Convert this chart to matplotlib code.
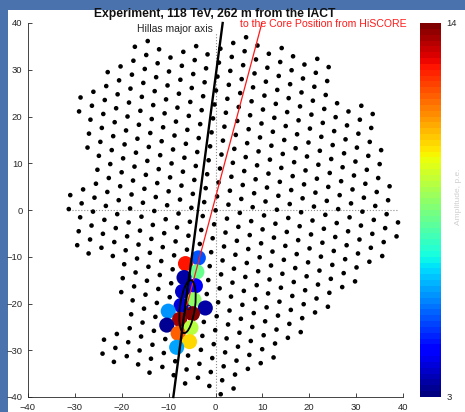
import numpy as np
import matplotlib
matplotlib.use("Agg")
import matplotlib.pyplot as plt
from matplotlib.patches import Ellipse, Rectangle
from matplotlib.colors import Normalize
from matplotlib.colorbar import ColorbarBase

plt.rcParams['font.family'] = ['Liberation Sans', 'DejaVu Sans']

# camera pixel lattice (hexagonal, pitch in cm, rotated)
PITCH = 3.0
ROT_DEG = 6.0
ORIGIN = (-31.3, 0.2)

# camera columns: column index j -> list of (i_low, i_high) segments along the column
cam_cols = {
    0: [(0, 1), (7, 8)],
    1: [(-3, 1), (4, 8)],
    2: [(-4, 9)],
    3: [(-4, 9)],
    4: [(-12, -11), (-5, 10)],
    5: [(-13, -11), (-8, 10)],
    6: [(-13, 9)],
    7: [(-14, 8)],
    8: [(-15, 8)],
    9: [(-15, 8)],
    10: [(-16, 7)],
    11: [(-17, 7)],
    12: [(-17, 7)],
    13: [(-18, 7)],
    14: [(-19, 6)],
    15: [(-19, 5)],
    16: [(-18, 5)],
    17: [(-18, 4)],
    18: [(-18, 3)],
    19: [(-17, 3)],
    20: [(-17, 2)],
    21: [(-16, -1)],
    22: [(-16, -2)],
    23: [(-15, -2)],
    24: [(-15, -3)],
    25: [(-14, -6)],
    26: [(-14, -9)],
    27: [(-13, -12)],
}

# pixels with signal: lattice indices and amplitude
hit_i = [-8, -8, -9, -9, -10, -10, -11, -11, -12, -11, -12, -12, -12, -13, -13, -14, -14]
hit_j = [11, 10, 11, 10, 11, 10, 11, 10, 12, 9, 10, 11, 9, 11, 10, 11, 10]
hit_amp = [5.3, 12.7, 8.2, 3.4, 4.3, 3.7, 8.8, 4.0, 3.5, 6.0, 13.6, 14.0, 3.3, 9.2, 11.8, 10.5, 6.2]

# Hillas ellipse and axes
hillas_center = (-5.97, -20.68)
hillas_len = 5.7
hillas_wid = 1.6
hillas_angle = 82.5
major_axis_x = [1.53, -9.0]
major_axis_y = [40, -40]
core_line_x = [-6.14, 9.9]
core_line_y = [-20.5, 40]

AMP_MIN, AMP_MAX = 3, 14


def lattice(ii, jj):
    th = np.radians(ROT_DEG)
    ux, uy = PITCH * np.sin(th), PITCH * np.cos(th)
    vx, vy = PITCH * np.sin(th + np.pi / 3), PITCH * np.cos(th + np.pi / 3)
    ii = np.asarray(ii, float)
    jj = np.asarray(jj, float)
    return ORIGIN[0] + ii * ux + jj * vx, ORIGIN[1] + ii * uy + jj * vy


ci, cj = [], []
for j, segs in cam_cols.items():
    for lo, hi in segs:
        for i in range(lo, hi + 1):
            ci.append(i)
            cj.append(j)
cam_x, cam_y = lattice(ci, cj)
hit_x, hit_y = lattice(hit_i, hit_j)

W, H = 465, 412
fig = plt.figure(figsize=(W / 100, H / 100), dpi=100, facecolor='#4a72ad')
fig.patches.append(Rectangle((8 / W, 0), 1 - 8 / W, 1 - 10 / H, transform=fig.transFigure,
                             facecolor='white', edgecolor='none', zorder=-10))

ax = fig.add_axes([28 / W, 1 - 397 / H, 375 / W, 374 / H])
ax.set_facecolor('white')
ax.set_xlim(-40, 40)
ax.set_ylim(-40, 40)
ax.set_xticks(np.arange(-40, 41, 10))
ax.set_yticks(np.arange(-40, 41, 10))
for s in ['top', 'right']:
    ax.spines[s].set_visible(False)
for s in ['left', 'bottom']:
    ax.spines[s].set_color('#262626')
    ax.spines[s].set_linewidth(0.6)
ax.tick_params(direction='in', length=3, width=0.6, colors='#262626', labelsize=6.8)
ax.tick_params(axis='x', pad=4)
ax.tick_params(axis='y', pad=4)

ax.plot([0, 0], [-40, 38], ':', color='0.55', lw=0.8, zorder=1)
ax.plot([-31.3, 38.7], [0, 0], ':', color='0.55', lw=0.8, zorder=1)

ax.scatter(cam_x, cam_y, s=11, c='k', edgecolors='none', zorder=2)

cmap = plt.get_cmap('jet', 64)
ax.scatter(hit_x, hit_y, s=118, c=hit_amp, cmap=cmap, vmin=AMP_MIN, vmax=AMP_MAX,
           edgecolors='none', zorder=3)

ax.plot(major_axis_x, major_axis_y, color='k', lw=1.7, zorder=4, clip_on=False)
ax.plot(core_line_x, core_line_y, color='#ff1a1a', lw=0.9, zorder=4, clip_on=False)
ax.add_patch(Ellipse(hillas_center, 2 * hillas_len, 2 * hillas_wid, angle=hillas_angle,
                     fill=False, edgecolor='k', lw=1.3, zorder=5))
ax.plot(*hillas_center, 'o', mfc='none', mec='#10105a', ms=3, mew=0.8, zorder=6)

fig.text(215 / W, 1 - 14 / H, 'Experiment, 118 TeV, 262 m from the IACT', ha='center', va='center',
         fontsize=8.7, fontweight='bold', color='#111111')
fig.text(175 / W, 1 - 29 / H, 'Hillas major axis', ha='center', va='center', fontsize=7.5, color='#222222')
fig.text(323 / W, 1 - 24 / H, 'to the Core Position from HiSCORE', ha='center', va='center',
         fontsize=7.6, color='#ff1a1a')

cax = fig.add_axes([420 / W, 1 - 397 / H, 21 / W, 374 / H])
cb = ColorbarBase(cax, cmap=cmap, norm=Normalize(AMP_MIN, AMP_MAX), ticks=[AMP_MIN, AMP_MAX])
cb.outline.set_visible(False)
cax.tick_params(length=0, labelsize=6.8, colors='#262626', pad=4)
fig.text(455 / W, 1 - 197 / H, 'Amplitude, p.e.', rotation=90, ha='left', va='center',
         fontsize=6, color='#d0d0d0')

fig.savefig('out.png', dpi=100, facecolor=fig.get_facecolor())
